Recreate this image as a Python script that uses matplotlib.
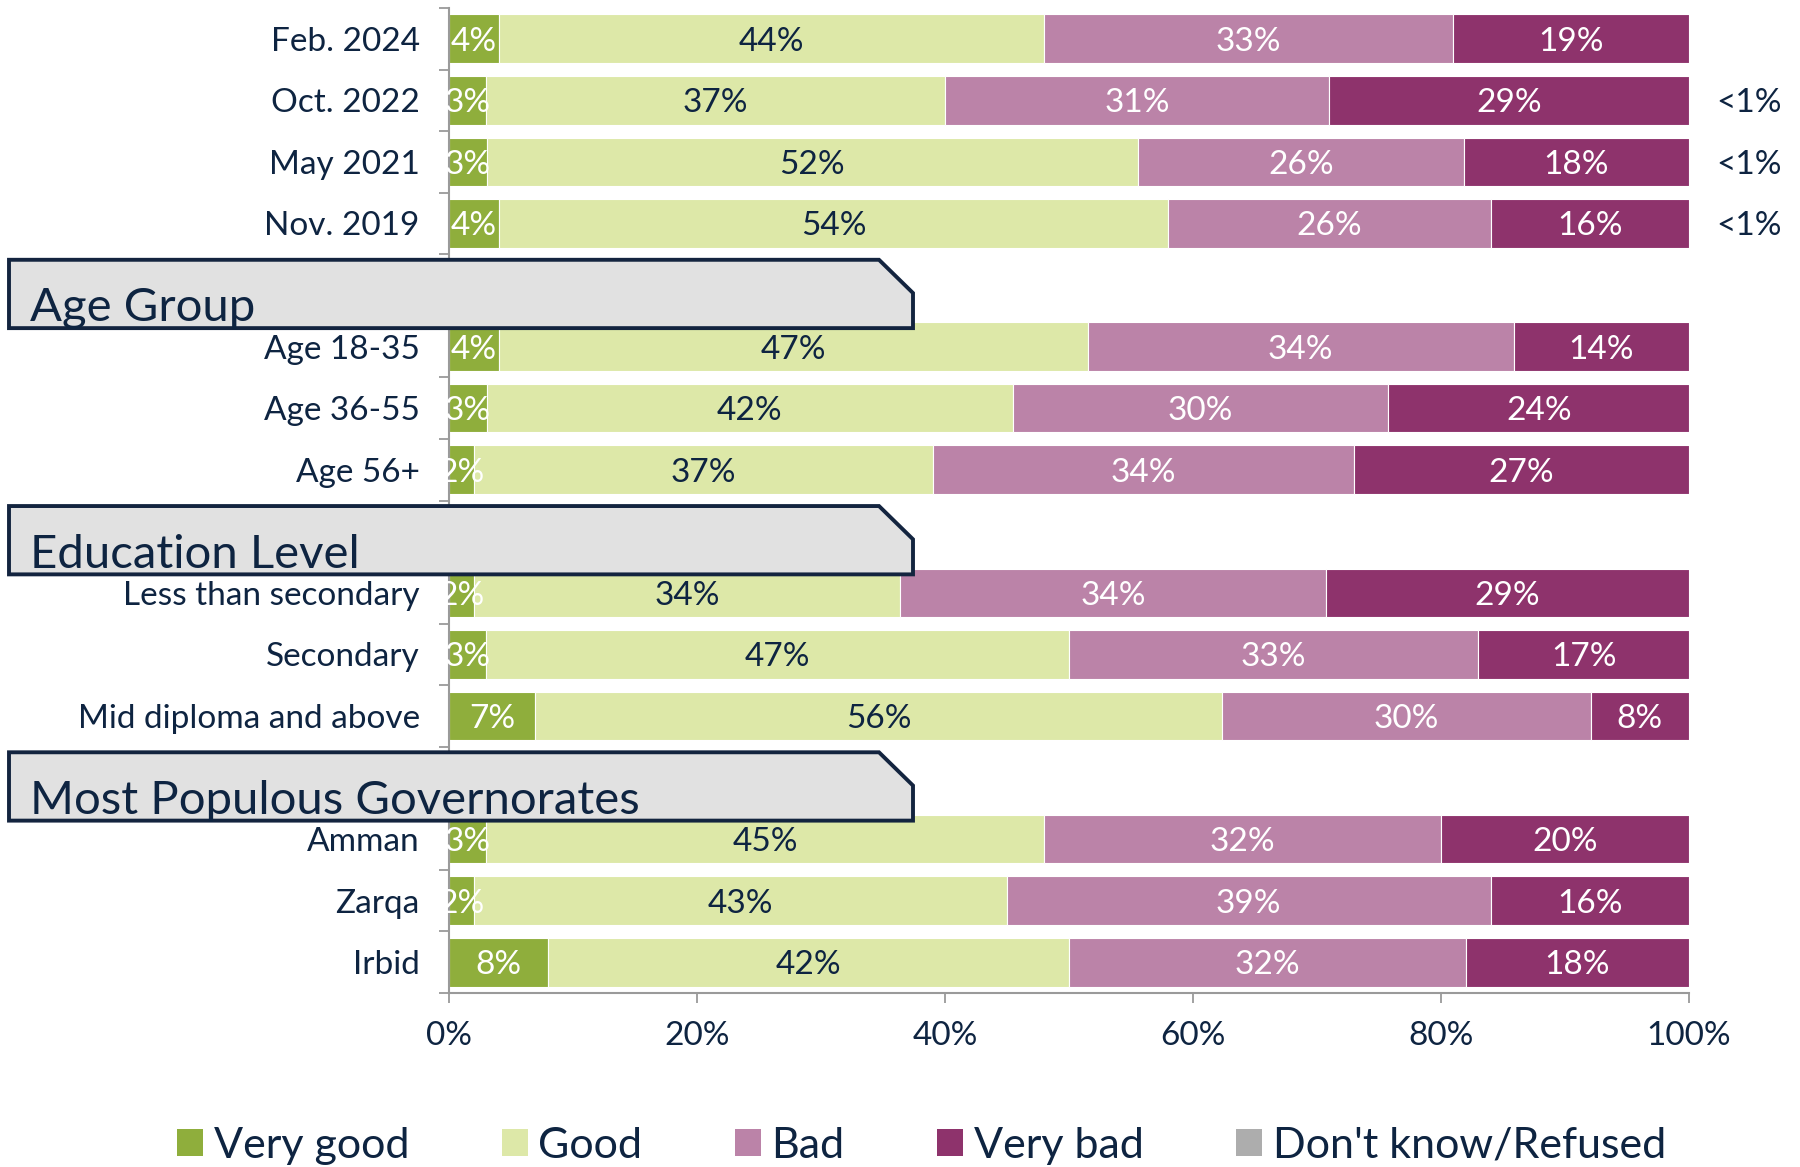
import numpy as np
import matplotlib.pyplot as plt
from matplotlib.patches import Polygon, Patch
from matplotlib.transforms import blended_transform_factory

plt.rcParams['font.family'] = ['Lato', 'DejaVu Sans']

# dados
categorias = ['Feb. 2024', 'Oct. 2022', 'May 2021', 'Nov. 2019',
              'Age 18-35', 'Age 36-55', 'Age 56+',
              'Less than secondary', 'Secondary', 'Mid diploma and above',
              'Amman', 'Zarqa', 'Irbid']
muito_bom = [4, 3, 3, 4, 4, 3, 2, 2, 3, 7, 3, 2, 8]
bom = [44, 37, 52, 54, 47, 42, 37, 34, 47, 56, 45, 43, 42]
ruim = [33, 31, 26, 26, 34, 30, 34, 34, 33, 30, 32, 39, 32]
muito_ruim = [19, 29, 18, 16, 14, 24, 27, 29, 17, 8, 20, 16, 18]
nao_sabe = ['', '<1%', '<1%', '<1%', '', '', '', '', '', '', '', '', '']

secoes = ['Age Group', 'Education Level', 'Most Populous Governorates']
tamanho_grupos = [4, 3, 3, 3]

legendas = ['Very good', 'Good', 'Bad', 'Very bad', "Don't know/Refused"]
cores = ['#8fae3c', '#dde8a8', '#bb83a8', '#8e336c', '#adadad']
cores_texto = ['white', '#0e2441', 'white', 'white']
AZUL = '#0e2441'


def posicoes_linhas():
    """Cada secao ocupa uma linha antes do seu grupo."""
    pos, cab = [], []
    y = 0
    for i, n in enumerate(tamanho_grupos):
        if i > 0:
            cab.append(y)
            y += 1
        pos.extend(range(y, y + n))
        y += n
    return np.array(pos), cab, y


def desenhar_barras(ax, pos):
    series = np.array([muito_bom, bom, ruim, muito_ruim], dtype=float)
    total = series.sum(axis=0)
    larguras = series / total * 100
    esquerda = np.zeros(len(categorias))
    for k in range(4):
        ax.barh(pos, larguras[k], left=esquerda, height=0.79,
                color=cores[k], edgecolor='white', linewidth=0.8, zorder=2)
        for j in range(len(categorias)):
            ax.text(esquerda[j] + larguras[k][j] / 2, pos[j],
                    f'{int(series[k][j])}%', ha='center', va='center_baseline',
                    fontsize=24, color=cores_texto[k], zorder=3)
        esquerda += larguras[k]
    for j, txt in enumerate(nao_sabe):
        if txt:
            ax.text(104.8, pos[j], txt, ha='center', va='center_baseline',
                    fontsize=24, color=AZUL, clip_on=False)


def desenhar_cabecalhos(fig, ax, cab):
    trans = blended_transform_factory(fig.transFigure, ax.transData)
    x0, x1, xc = 9 / 1800, 913 / 1800, 879 / 1800
    for nome, y in zip(secoes, cab):
        pontos = [(x0, y - 0.41), (xc, y - 0.41), (x1, y + 0.13),
                  (x1, y + 0.70), (x0, y + 0.70)]
        poly = Polygon(pontos, closed=True, transform=trans,
                       facecolor='#e1e1e1', edgecolor='#13243f',
                       linewidth=2.8, clip_on=False, zorder=5)
        ax.add_patch(poly)
        ax.text(30 / 1800, y + 0.59, nome, transform=trans, fontsize=34,
                color=AZUL, ha='left', va='baseline', zorder=6, clip_on=False)


fig = plt.figure(figsize=(18, 11.67), dpi=100)
ax = fig.add_axes([449 / 1800, 1 - 993 / 1167, 1240 / 1800, 985 / 1167])

pos, cab, n_linhas = posicoes_linhas()
desenhar_barras(ax, pos)

ax.set_xlim(0, 100)
ax.set_ylim(n_linhas - 0.5, -0.5)
ax.set_yticks(pos, categorias)
ax.set_yticks(np.arange(-0.5, n_linhas), minor=True)
ax.tick_params(axis='y', which='major', length=0, pad=21, labelsize=24,
               labelcolor=AZUL)
ax.tick_params(axis='y', which='minor', length=7, color='#9a9a9a', width=1.3)
ax.set_xticks(np.arange(0, 101, 20), [f'{v}%' for v in range(0, 101, 20)])
ax.tick_params(axis='x', length=7, color='#9a9a9a', width=1.3, pad=13,
               labelsize=24, labelcolor=AZUL)
for lado in ['top', 'right']:
    ax.spines[lado].set_visible(False)
for lado in ['left', 'bottom']:
    ax.spines[lado].set_color('#9a9a9a')
    ax.spines[lado].set_linewidth(1.5)

desenhar_cabecalhos(fig, ax, cab)

handles = [Patch(facecolor=c) for c in cores]
fig.legend(handles, legendas, ncol=5, loc='center',
           bbox_to_anchor=(0.512, 1 - 1146 / 1167), frameon=False,
           fontsize=31, labelcolor=AZUL, handlelength=0.6, handleheight=0.6,
           handletextpad=0.25, columnspacing=2.15)

fig.savefig('out.png', dpi=100)
